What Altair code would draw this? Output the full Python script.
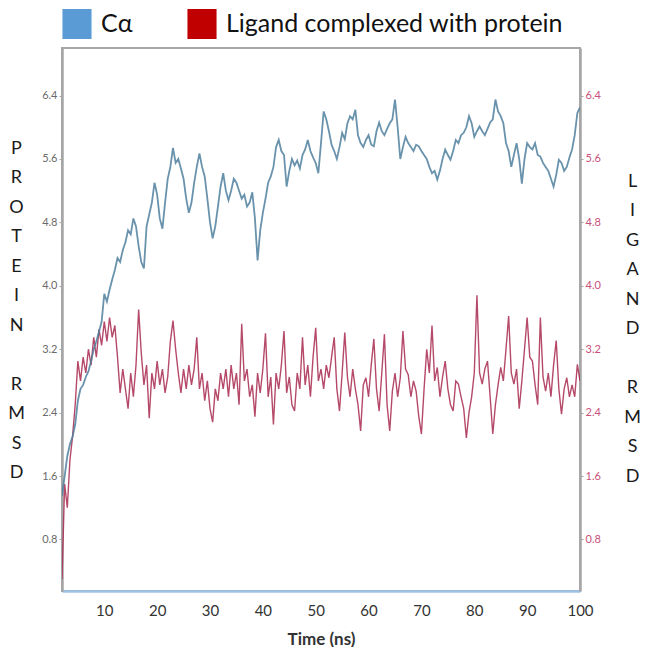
import altair as alt
import pandas as pd

# sampling grid (ns)
time_ns = [round(2 + 0.5 * i, 1) for i in range(197)]

ca_rmsd = [
    1.35, 1.6, 1.85, 2.0, 2.1, 2.25, 2.55, 2.7, 2.75, 2.85,
    2.92, 3.05, 3.2, 3.3, 3.42, 3.55, 3.9, 3.8, 3.95, 4.08,
    4.2, 4.35, 4.3, 4.45, 4.55, 4.7, 4.65, 4.85, 4.75, 4.5,
    4.3, 4.22, 4.75, 4.9, 5.05, 5.3, 5.15, 4.85, 4.72, 5.05,
    5.35, 5.5, 5.74, 5.55, 5.6, 5.48, 5.35, 5.1, 4.92, 5.05,
    5.3, 5.5, 5.67, 5.5, 5.38, 5.1, 4.8, 4.6, 4.75, 5.0,
    5.25, 5.42, 5.2, 5.08, 5.2, 5.35, 5.3, 5.2, 5.1, 5.15,
    5.0, 5.05, 5.18, 4.85, 4.32, 4.7, 4.92, 5.1, 5.3, 5.38,
    5.5, 5.75, 5.84, 5.7, 5.65, 5.25, 5.45, 5.6, 5.52, 5.58,
    5.48, 5.65, 5.72, 5.84, 5.7, 5.62, 5.55, 5.42, 5.8, 6.2,
    6.1, 5.95, 5.78, 5.7, 5.6, 5.75, 5.93, 5.85, 6.05, 6.14,
    6.1, 6.22, 5.9, 5.8, 5.75, 5.84, 5.9, 5.78, 5.76, 5.95,
    6.06, 5.95, 5.9, 5.98, 6.05, 6.1, 6.35, 6.0, 5.6, 5.75,
    5.88, 5.8, 5.75, 5.7, 5.78, 5.76, 5.7, 5.65, 5.6, 5.5,
    5.42, 5.45, 5.34, 5.45, 5.6, 5.72, 5.65, 5.59, 5.7, 5.84,
    5.8, 5.9, 5.93, 6.0, 6.14, 6.05, 5.88, 5.95, 6.01, 5.95,
    5.9, 5.98, 6.06, 6.1, 6.35, 6.2, 6.14, 6.05, 5.8, 5.7,
    5.5, 5.65, 5.8, 5.6, 5.29, 5.6, 5.8, 5.75, 5.72, 5.8,
    5.65, 5.63, 5.55, 5.5, 5.45, 5.35, 5.25, 5.4, 5.59, 5.55,
    5.45, 5.5, 5.62, 5.72, 5.9, 6.18, 6.25,
]

lig_rmsd = [
    0.3, 1.5, 1.2, 1.8, 2.1, 2.5, 3.05, 2.8, 3.1, 2.9,
    3.2, 3.0, 3.35, 3.1, 3.45, 3.25, 3.55, 3.3, 3.6, 3.35,
    3.5, 3.1, 2.65, 2.95, 2.7, 2.45, 2.9, 2.6, 3.0, 3.7,
    3.15, 2.75, 3.0, 2.33, 2.9, 2.7, 3.05, 2.75, 2.95, 2.65,
    2.85, 3.3, 3.56, 3.2, 2.9, 2.65, 2.95, 2.7, 3.0, 2.75,
    2.95, 3.35, 2.7, 2.9, 2.55, 2.8, 2.45, 2.28, 2.7, 2.55,
    2.9, 2.7, 2.95, 2.6, 3.0, 2.7, 2.9, 2.5, 3.52, 2.8,
    2.95, 2.6, 2.75, 2.35, 2.9, 2.65, 2.95, 3.4, 2.6, 2.85,
    2.25, 2.9, 2.7, 3.0, 3.43, 2.65, 2.85, 2.5, 2.42, 2.9,
    2.7, 3.35, 2.75, 3.0, 2.6, 3.1, 3.47, 2.8, 2.95, 2.7,
    3.0, 2.84, 3.1, 3.35, 2.7, 2.42, 2.9, 3.41, 2.85, 2.6,
    2.95, 2.7, 2.5, 2.17, 2.75, 2.84, 2.6, 3.0, 3.33, 2.7,
    2.42, 2.9, 3.39, 2.5, 2.17, 2.67, 2.9, 2.6, 2.84, 3.43,
    2.95, 2.88, 2.6, 2.8, 2.67, 2.35, 2.13, 2.7, 3.2, 2.9,
    3.5, 2.8, 2.97, 2.6, 2.85, 3.05, 2.7, 2.5, 2.42, 2.8,
    2.76, 2.6, 2.45, 2.08, 2.4, 2.6, 2.9, 3.88, 2.9, 2.76,
    2.95, 3.05, 2.6, 2.13, 2.5, 2.75, 2.97, 2.8, 3.2, 3.62,
    2.9, 2.76, 2.95, 2.45, 2.8, 3.2, 3.6, 3.1, 3.05, 2.75,
    2.5, 3.6, 2.85, 2.67, 2.9, 2.6, 3.0, 3.31, 2.7, 2.38,
    2.7, 2.84, 2.6, 2.75, 2.6, 3.01, 2.8,
]

legend_labels = ["Cα", "Ligand complexed with protein"]
legend_colors = ["#5b9bd5", "#c00000"]
y_ticks = [0.8, 1.6, 2.4, 3.2, 4.0, 4.8, 5.6, 6.4]
x_ticks = [10, 20, 30, 40, 50, 60, 70, 80, 90, 100]
GAP = "\u200b"
left_title = ["P", "R", "O", "T", "E", "I", "N", GAP, "R", "M", "S", "D"]
right_title = ["L", "I", "G", "A", "N", "D", GAP, "R", "M", "S", "D"]

df_ca = pd.DataFrame({"t": time_ns, "rmsd": ca_rmsd})
df_lig = pd.DataFrame({"t": time_ns, "rmsd": lig_rmsd})
df_leg = pd.DataFrame({"t": [-50, -50], "rmsd": [1.0, 1.0], "series": legend_labels})

FONT = "Lato"
x_scale = alt.Scale(domain=[2, 100], nice=False, zero=False)
y_scale = alt.Scale(domain=[0.15, 7.0], nice=False, zero=False)

x_axis = alt.Axis(
    values=x_ticks, title="Time (ns)", labelFlush=False, ticks=False, grid=False,
    domainColor="#9dc3e6", domainWidth=2.5,
    labelFont=FONT, labelFontSize=15, labelColor="#333333", labelPadding=12,
    titleFont=FONT, titleFontSize=17, titleFontWeight="bold", titleColor="#333333",
    titlePadding=13,
)

common_y = dict(
    values=y_ticks, format=".1f", grid=False,
    domainColor="#a6a6a6", domainWidth=2.5, tickColor="#a6a6a6", tickSize=3,
    labelFont=FONT, labelFontSize=11, labelPadding=2,
    titleAngle=0, titleAlign="center", titleBaseline="top", titleLineHeight=29.5,
    titleFont=FONT, titleFontSize=18, titleFontWeight="normal", titleColor="#1a1a1a",
)

left_axis = alt.Axis(orient="left", labelColor="#6b6b6b", title=left_title,
                     titleX=-46, titleY=91, **common_y)
right_axis = alt.Axis(orient="right", labelColor="#c8507a", title=right_title,
                      titleX=52, titleY=124, **common_y)

lig = alt.Chart(df_lig).mark_line(
    color="#a8294f", strokeWidth=1.4, opacity=0.85, clip=True
).encode(
    x=alt.X("t:Q", scale=x_scale, axis=x_axis),
    y=alt.Y("rmsd:Q", scale=y_scale, axis=right_axis),
)

ca = alt.Chart(df_ca).mark_line(
    color="#4f7f9e", strokeWidth=1.8, opacity=0.85, clip=True
).encode(
    x=alt.X("t:Q", scale=x_scale, axis=x_axis),
    y=alt.Y("rmsd:Q", scale=y_scale, axis=left_axis),
)

rect_path = "M-0.97,-1H0.97V1H-0.97Z"
leg = alt.Chart(df_leg).mark_point(
    filled=True, shape=rect_path, opacity=1, clip=True
).encode(
    x=alt.X("t:Q", scale=x_scale, axis=x_axis),
    y=alt.Y("rmsd:Q", scale=y_scale, axis=None),
    color=alt.Color(
        "series:N",
        scale=alt.Scale(domain=legend_labels, range=legend_colors),
        legend=alt.Legend(
            orient="none", legendX=0, legendY=-39, direction="horizontal",
            title=None, symbolType=rect_path, symbolSize=900,
            symbolStrokeWidth=0, symbolOpacity=1,
            labelFont=FONT, labelFontSize=25, labelColor="#111111",
            labelOffset=9, columnPadding=54, padding=0, labelLimit=500,
        ),
    ),
)

chart = alt.layer(lig, ca, leg).resolve_scale(y="independent").properties(
    width=518, height=543,
    autosize=alt.AutoSizeParams(type="none"),
    padding={"left": 54, "top": 40, "right": 60, "bottom": 56},
).configure_view(stroke="#a6a6a6", strokeWidth=2)

chart.save("out.html", embed_options={"renderer": "svg", "actions": False})
